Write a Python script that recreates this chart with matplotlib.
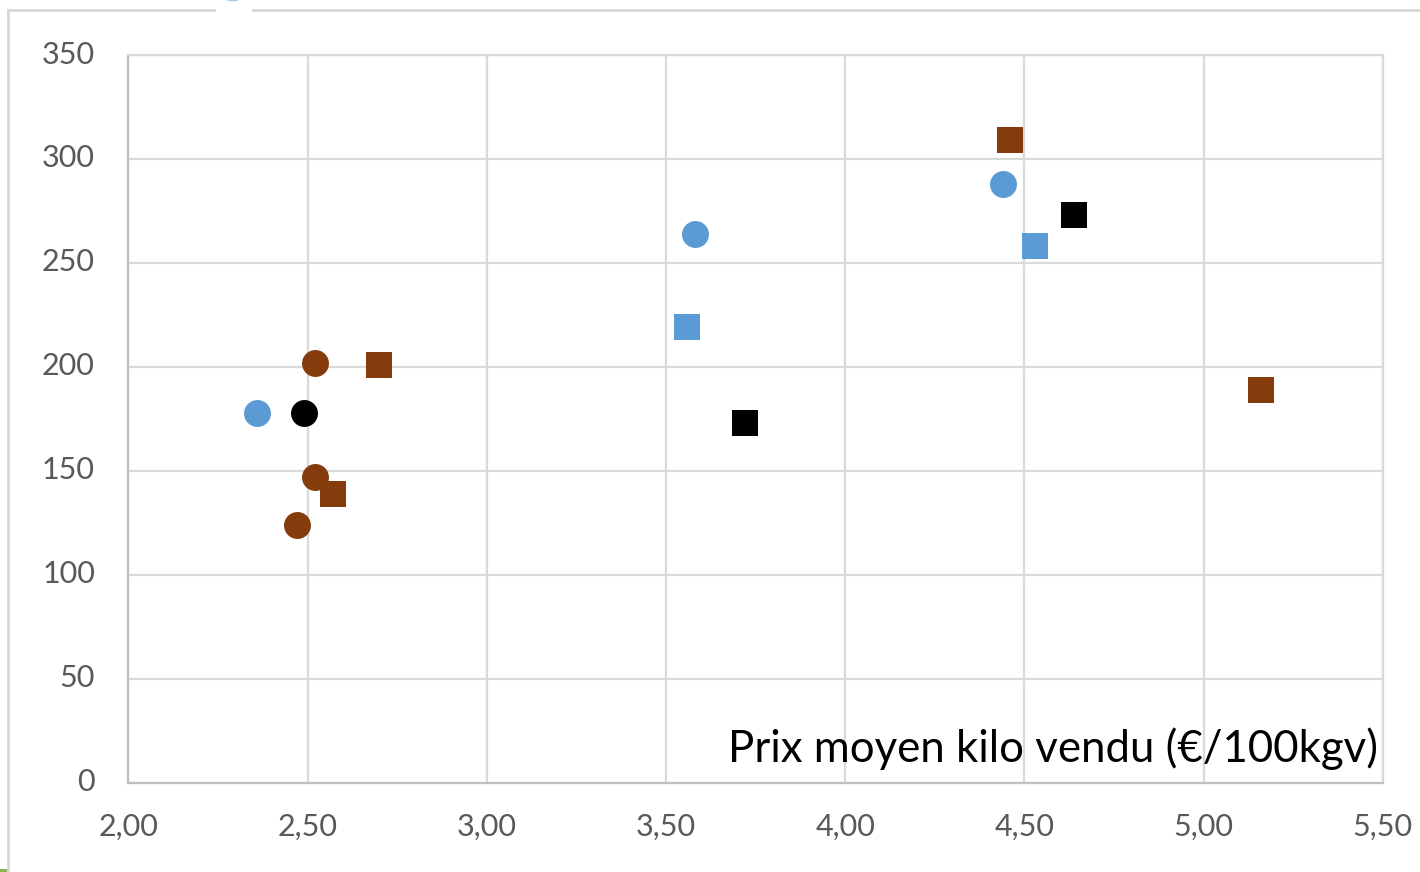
import matplotlib
matplotlib.use("Agg")
import matplotlib.pyplot as plt
from matplotlib.lines import Line2D
from matplotlib.patches import Rectangle
from matplotlib.transforms import ScaledTranslation

# ---- data ----
blue_circle_x = [2.36, 3.58, 4.44]
blue_circle_y = [178, 264, 288]
blue_square_x = [3.56, 4.53]
blue_square_y = [219, 258]
brown_circle_x = [2.52, 2.52, 2.47]
brown_circle_y = [202, 147, 124]
brown_square_x = [2.70, 2.57, 4.46, 5.16]
brown_square_y = [201, 139, 309, 189]
black_circle_x = [2.49]
black_circle_y = [178]
black_square_x = [3.72, 4.64]
black_square_y = [173, 273]

x_ticks = [2.0, 2.5, 3.0, 3.5, 4.0, 4.5, 5.0, 5.5]
x_tick_labels = ["2,00", "2,50", "3,00", "3,50", "4,00", "4,50", "5,00", "5,50"]
y_ticks = [0, 50, 100, 150, 200, 250, 300, 350]
y_tick_labels = ["0", "50", "100", "150", "200", "250", "300", "350"]
axis_title = "Prix moyen kilo vendu (€/100kgv)"

BLUE = "#5B9BD5"
BROWN = "#843C0C"
BLACK = "#000000"
GRID = "#D9D9D9"
FONT = ["Lato", "DejaVu Sans"]

W, H = 1420, 872
fig = plt.figure(figsize=(W / 100, H / 100), dpi=100)
fig.patch.set_facecolor("white")

ax = fig.add_axes([128.3 / W, 1 - 782.7 / H, (1382.7 - 128.3) / W, (782.7 - 55) / H])
ax.set_xlim(2.0, 5.5)
ax.set_ylim(0, 350)

ms = 19.4
series = [
    (blue_circle_x, blue_circle_y, BLUE, "o"),
    (blue_square_x, blue_square_y, BLUE, "s"),
    (brown_circle_x, brown_circle_y, BROWN, "o"),
    (brown_square_x, brown_square_y, BROWN, "s"),
    (black_circle_x, black_circle_y, BLACK, "o"),
    (black_square_x, black_square_y, BLACK, "s"),
]
for xs, ys, c, m in series:
    ax.plot(xs, ys, linestyle="none", marker=m, markersize=ms,
            markerfacecolor=c, markeredgewidth=0, zorder=3)

ax.set_xticks(x_ticks)
ax.set_xticklabels(x_tick_labels)
ax.set_yticks(y_ticks)
ax.set_yticklabels(y_tick_labels)
ax.grid(True, color=GRID, linewidth=1.6, zorder=0)
ax.set_axisbelow(True)
ax.tick_params(length=0, labelsize=22, labelcolor="#595959")
ax.tick_params(axis="x", pad=22)
ax.tick_params(axis="y", pad=24)
for lab in ax.get_xticklabels() + ax.get_yticklabels():
    lab.set_family(FONT)
shift = ScaledTranslation(0, 3 / 100, fig.dpi_scale_trans)
for lab in ax.get_yticklabels():
    lab.set_transform(lab.get_transform() + shift)

for s in ["top", "right"]:
    ax.spines[s].set_color(GRID)
    ax.spines[s].set_linewidth(1.6)
for s in ["left", "bottom"]:
    ax.spines[s].set_color("#BFBFBF")
    ax.spines[s].set_linewidth(1.6)

fig.text(1378 / W, 1 - 762 / H, axis_title, ha="right", va="baseline",
         fontsize=31.5, color="black", family=FONT)

# outer chart border (partially visible in the reference)
lw_px = 3
fig.add_artist(Line2D([8 / W, 8 / W], [0, 1 - 10.5 / H], transform=fig.transFigure,
                      color=GRID, linewidth=lw_px * 0.72))
fig.add_artist(Line2D([8 / W, 214 / W], [1 - 10.5 / H, 1 - 10.5 / H], transform=fig.transFigure,
                      color=GRID, linewidth=lw_px * 0.72))
fig.add_artist(Line2D([253 / W, 1], [1 - 10.5 / H, 1 - 10.5 / H], transform=fig.transFigure,
                      color=GRID, linewidth=lw_px * 0.72))
# clipped legend marker at the very top
fig.add_artist(Line2D([232 / W], [1 + 15 / H], transform=fig.transFigure, marker="o",
                      markersize=23, markerfacecolor=BLUE, markeredgewidth=0,
                      linestyle="none", alpha=0.5, clip_on=False))
# small green mark bottom-left
fig.add_artist(Rectangle((0, 0), 7 / W, 3 / H, transform=fig.transFigure,
                         facecolor="#8DB255", edgecolor="none"))

fig.savefig("out.png", dpi=100)
